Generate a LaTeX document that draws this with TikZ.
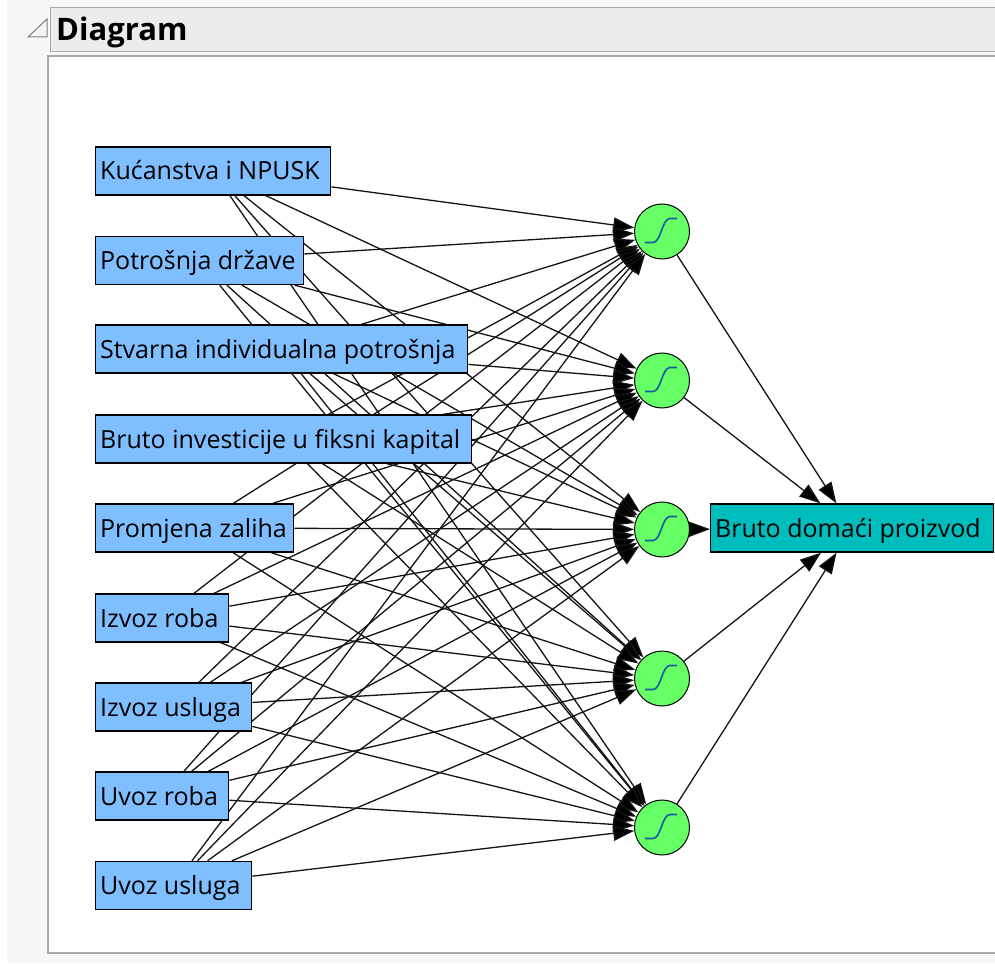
\documentclass[tikz,border=0pt]{standalone}
\usepackage{fontspec}
\setmainfont{Open Sans}
\usetikzlibrary{arrows.meta}
\pgfdeclarelayer{panel}
\pgfdeclarelayer{wires}
\pgfsetlayers{panel,wires,main}
\definecolor{inblue}{RGB}{128,191,255}
\definecolor{outteal}{RGB}{0,189,189}
\definecolor{hidgreen}{RGB}{102,255,102}
\definecolor{sigblue}{RGB}{25,90,160}
\definecolor{outergray}{RGB}{247,247,247}
\definecolor{headgray}{RGB}{236,236,236}
\definecolor{framegray}{RGB}{168,168,168}
\definecolor{wire}{RGB}{20,20,20}
\newcommand{\lbx}[2]{\makebox[#1][l]{#2}}
\begin{document}
\begin{tikzpicture}[x=1pt,y=-1pt,
  boxtext/.style={font=\fontsize{25}{30}\selectfont, text height=24pt, text depth=6pt},
  inbox/.style={boxtext, draw=black, line width=1.3pt, fill=inblue, anchor=west,
    minimum height=48pt, inner xsep=4.5pt, inner ysep=0pt},
  outbox/.style={boxtext, draw=black, line width=1.3pt, fill=outteal, anchor=west,
    minimum height=48pt, inner xsep=4.5pt, inner ysep=0pt},
  hidnode/.style={circle, draw=black, line width=1pt, fill=hidgreen, minimum size=55pt, inner sep=0pt},
  link/.style={draw=wire, line width=1.3pt, -{Triangle[length=21pt,width=15pt,fill=black]}},
  sig/.style={draw=sigblue, line width=1.6pt}
]
\useasboundingbox (0,0) rectangle (995,965);
\begin{pgfonlayer}{panel}
  \fill[outergray] (0,0) rectangle (995,965);
  \fill[white] (0,0) rectangle (7,965);
  \fill[white] (0,963) rectangle (995,965);
  \filldraw[fill=headgray, draw=framegray, line width=1pt] (50,8) rectangle (1000,52);
  \filldraw[fill=white, draw=framegray, line width=1.5pt] (48,56) rectangle (1000,953);
  \filldraw[fill=headgray!60!white, draw=gray, line width=1pt] (28,37) -- (47,37) -- (47,19) -- cycle;
\end{pgfonlayer}
\node[anchor=base west, inner sep=0pt, font=\fontsize{31}{36}\selectfont\bfseries] (title) at (56,41) {Diagram};

% input nodes
\node[inbox] (i1) at (95,171) {\lbx{226pt}{Kućanstva i NPUSK}};
\node[inbox] (i2) at (95,260.5) {\lbx{199pt}{Potrošnja države}};
\node[inbox] (i3) at (95,349) {\lbx{363pt}{Stvarna individualna potrošnja}};
\node[inbox] (i4) at (95,439) {\lbx{367pt}{Bruto investicije u fiksni kapital}};
\node[inbox] (i5) at (95,528) {\lbx{189pt}{Promjena zaliha}};
\node[inbox] (i6) at (95,618) {\lbx{124pt}{Izvoz roba}};
\node[inbox] (i7) at (95,707) {\lbx{147pt}{Izvoz usluga}};
\node[inbox] (i8) at (95,796) {\lbx{124pt}{Uvoz roba}};
\node[inbox] (i9) at (95,885.5) {\lbx{147pt}{Uvoz usluga}};

% hidden nodes
\foreach \k/\y in {1/231.5,2/380.5,3/529.5,4/678.5,5/827.5}{
  \node[hidnode] (h\k) at (662,\y) {};
  \begin{scope}[shift={(h\k.center)}]
    \draw[sig] (-17,11) -- (-9,11) .. controls (-1,11) and (0,-13) .. (8,-13) -- (15,-13);
  \end{scope}
}

% output node
\node[outbox] (out) at (710,528) {\lbx{274pt}{Bruto domaći proizvod}};

\begin{pgfonlayer}{wires}
  \foreach \i in {1,...,9}{
    \foreach \k in {1,...,5}{
      \draw[link] (i\i) -- (h\k);
    }
  }
  \foreach \k in {1,...,5}{
    \draw[link] (h\k) -- (out);
  }
\end{pgfonlayer}
\end{tikzpicture}
\end{document}
